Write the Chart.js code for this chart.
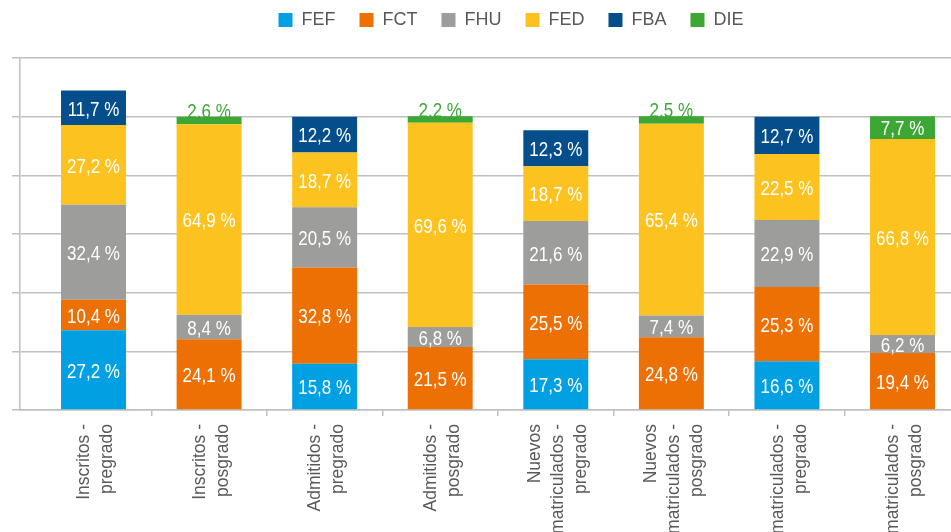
<!DOCTYPE html>
<html>
<head>
<meta charset="utf-8">
<script src="https://cdn.jsdelivr.net/npm/chart.js@4.4.1/dist/chart.umd.min.js"></script>
<style>
  html, body { margin:0; padding:0; background:#fff; overflow:hidden; }
  #wrap { width:951px; height:532px; overflow:hidden; position:relative; }
  #wrap canvas { position:absolute; left:0; top:0; }
</style>
</head>
<body>
<div id="wrap"><canvas id="chart" width="1010" height="532"></canvas></div>
<script>
// categorias (eje x)
const CATEGORIAS = [
  ['Inscritos -', 'pregrado'],
  ['Inscritos -', 'posgrado'],
  ['Admitidos -', 'pregrado'],
  ['Admitidos -', 'posgrado'],
  ['Nuevos', 'matriculados -', 'pregrado'],
  ['Nuevos', 'matriculados -', 'posgrado'],
  ['Antiguos matriculados -', 'pregrado'],
  ['Antiguos matriculados -', 'posgrado']
];

// series (%), null = sin valor
const FEF = [27.2, null, 15.8, null, 17.3, null, 16.6, null];
const FCT = [10.4, 24.1, 32.8, 21.5, 25.5, 24.8, 25.3, 19.4];
const FHU = [32.4, 8.4, 20.5, 6.8, 21.6, 7.4, 22.9, 6.2];
const FED = [27.2, 64.9, 18.7, 69.6, 18.7, 65.4, 22.5, 66.8];
const FBA = [11.7, null, 12.2, null, 12.3, null, 12.7, null];
const DIE = [null, 2.6, null, 2.2, null, 2.5, null, 7.7];

const FONT = "'Liberation Sans', Arial, sans-serif";
const GRIS = '#595959';
const LINEA = '#c0c0c0';
const X_MIN = -0.636, X_MAX = 7.93;
const LABEL_LH = 23; // alto de linea de las etiquetas del eje x

const serie = (label, vals, color) => ({
  label,
  data: vals.map((v, i) => ({ x: i, y: v })),
  backgroundColor: color,
  borderWidth: 0,
  barPercentage: 0.562,
  categoryPercentage: 1
});

const datasets = [
  serie('FEF', FEF, '#00a0e2'),
  serie('FCT', FCT, '#ec7004'),
  serie('FHU', FHU, '#9d9d9c'),
  serie('FED', FED, '#fbc220'),
  serie('FBA', FBA, '#034e8b'),
  serie('DIE', DIE, '#3da736')
];

// etiquetas de valor dentro / encima de cada segmento (letra estrecha)
const SX = 0.81;
const etiquetas = {
  id: 'etiquetas',
  afterDatasetsDraw(chart) {
    const ctx = chart.ctx;
    ctx.save();
    ctx.scale(SX, 1);
    ctx.font = '21px ' + FONT;
    ctx.textAlign = 'center';
    chart.data.datasets.forEach((ds, di) => {
      const meta = chart.getDatasetMeta(di);
      meta.data.forEach((bar, j) => {
        const v = ds.data[j].y;
        if (v == null) return;
        const p = bar.getProps(['x', 'y', 'base'], true);
        const txt = v.toFixed(1).replace('.', ',') + ' %';
        if (v < 5) {
          ctx.fillStyle = ds.backgroundColor;
          ctx.textBaseline = 'alphabetic';
          ctx.fillText(txt, p.x / SX, p.y + 1);
        } else {
          ctx.fillStyle = '#ffffff';
          ctx.textBaseline = 'middle';
          ctx.fillText(txt, p.x / SX, (p.y + p.base) / 2 + 2);
        }
      });
    });
    ctx.restore();
  }
};

// espacio extra bajo la leyenda
const margenLeyenda = {
  id: 'margenLeyenda',
  beforeInit(chart) {
    const fit = chart.legend.fit;
    chart.legend.fit = function () {
      fit.bind(chart.legend)();
      this.height += 19;
    };
  }
};

new Chart(document.getElementById('chart'), {
  type: 'bar',
  data: { datasets },
  plugins: [etiquetas, margenLeyenda],
  options: {
    responsive: false,
    animation: false,
    layout: { padding: { left: 12, right: 0, top: -13, bottom: 0 } },
    plugins: {
      tooltip: { enabled: false },
      legend: {
        position: 'top',
        labels: {
          boxWidth: 14, boxHeight: 14, padding: 24,
          color: GRIS,
          font: { family: FONT, size: 18 }
        }
      }
    },
    scales: {
      x: {
        type: 'linear',
        stacked: true,
        offset: false,
        weight: 0,
        min: X_MIN,
        max: X_MAX,
        afterBuildTicks: s => { s.ticks = CATEGORIAS.map((_, i) => ({ value: i })); },
        grid: {
          offset: true,
          drawOnChartArea: false,
          tickLength: 6,
          lineWidth: 1.5,
          color: c => c.index === 0 ? 'rgba(0,0,0,0)' : LINEA
        },
        border: { color: LINEA, width: 1.5 },
        ticks: { display: false }
      },
      // eje solo para los nombres de las categorias, centrados en cada barra
      xl: {
        type: 'linear',
        position: 'bottom',
        offset: false,
        weight: 1,
        min: X_MIN,
        max: X_MAX,
        afterBuildTicks: s => { s.ticks = CATEGORIAS.map((_, i) => ({ value: i })); },
        afterFit: s => { s.height = 116; },
        afterUpdate: s => {
          const ppu = s.width / (s.max - s.min);
          s.ticks.forEach((t, i) => {
            t.value = i + 0.02 - (CATEGORIAS[i].length - 1) * LABEL_LH / 2 / ppu;
          });
        },
        grid: { display: false },
        border: { display: false },
        ticks: {
          autoSkip: false,
          minRotation: 90,
          maxRotation: 90,
          padding: 0,
          color: GRIS,
          font: { family: FONT, size: 17.5, lineHeight: LABEL_LH / 17.5 },
          callback: (v, i) => CATEGORIAS[i]
        }
      },
      y: {
        stacked: true,
        min: 0,
        max: 120,
        ticks: { stepSize: 20, display: false },
        grid: { color: LINEA, lineWidth: 1.5, tickLength: 8 },
        border: { color: LINEA, width: 1.5 }
      }
    }
  }
});
</script>
</body>
</html>
